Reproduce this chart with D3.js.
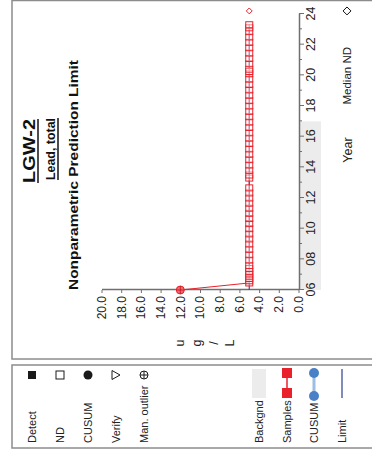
<!DOCTYPE html>
<html><head><meta charset="utf-8">
<script src="https://cdn.jsdelivr.net/npm/d3@7"></script>
<style>
body{margin:0;background:#fff}
svg{display:block;font-family:"Liberation Sans",Arial,Helvetica,sans-serif}
</style>
</head><body>
<svg id="c" width="372" height="454"></svg>
<script>
// ---------------- data ----------------
const outlierDates = [2006.0];
const outlierValues = [12.0];
const sampleDates = [
  2006.46, 2006.6, 2006.75, 2006.9, 2007.05, 2007.2, 2007.4, 2007.6,
  2007.95, 2008.3, 2008.65, 2009.0, 2009.33, 2009.66, 2010.0, 2010.33, 2010.66, 2011.0,
  2011.33, 2011.66, 2012.0, 2012.33, 2012.66, 2013.3, 2013.5, 2013.8, 2014.15, 2014.5,
  2014.85, 2015.2, 2015.55, 2015.9, 2016.25, 2016.6, 2016.95, 2017.3, 2017.65, 2018.0,
  2018.35, 2018.7, 2019.05, 2019.4, 2019.75, 2020.1, 2020.25, 2020.4, 2020.75, 2021.1,
  2021.45, 2021.8, 2022.15, 2022.5, 2022.85, 2023.1, 2023.3
];
const sampleValues = [
  5.0, 5.0, 5.0, 5.0, 5.0, 5.0, 5.0, 5.0,
  5.0, 5.0, 5.0, 5.0, 5.0, 5.0, 5.0, 5.0, 5.0, 5.0,
  5.0, 5.0, 5.0, 5.0, 5.0, 5.0, 5.0, 5.0, 5.0, 5.0,
  5.0, 5.0, 5.0, 5.0, 5.0, 5.0, 5.0, 5.0, 5.0, 5.0,
  5.0, 5.0, 5.0, 5.0, 5.0, 5.0, 5.0, 5.0, 5.0, 5.0,
  5.0, 5.0, 5.0, 5.0, 5.0, 5.0, 5.0
];
const limitValue = 5.0;
const medianNdYears = [2024.2];
const medianNdValues = [5.0];
const backgroundRange = [2006.0, 2017.0];
const yearDomain = [2006, 2024];
const yearMajorTicks = [2006, 2008, 2010, 2012, 2014, 2016, 2018, 2020, 2022, 2024];
const yearMinorTicks = [2007, 2009, 2011, 2013, 2015, 2017, 2019, 2021, 2023];
const yearTickLabels = ["06", "08", "10", "12", "14", "16", "18", "20", "22", "24"];
const valueDomain = [0, 20];
const valueTicks = [0, 2, 4, 6, 8, 10, 12, 14, 16, 18, 20];
const valueTickLabels = ["0.0", "2.0", "4.0", "6.0", "8.0", "10.0", "12.0", "14.0", "16.0", "18.0", "20.0"];
const unitLetters = ["u", "g", "/", "L"];
const titles = ["LGW-2", "Lead, total", "Nonparametric Prediction Limit"];
const legendLeft = ["Detect", "ND", "CUSUM", "Verify", "Man. outlier"];
const legendRight = ["Backgnd", "Samples", "CUSUM", "Limit"];

// ---------------- drawing ----------------
const RED = "#e8212b", AX = "#6f6f6f", FRAME = "#8c8c8c";
const svg = d3.select("#c");
// chart is drawn in its natural (landscape) orientation and rotated 90° counter-clockwise
const g = svg.append("g").attr("transform", "translate(0,454) rotate(-90)");

// panels
g.append("rect").attr("x", 95).attr("y", 12).attr("width", 358.5).attr("height", 380)
  .attr("fill", "none").attr("stroke", FRAME).attr("stroke-width", 1.5);
g.append("rect").attr("x", 6).attr("y", 12).attr("width", 83).attr("height", 380)
  .attr("fill", "none").attr("stroke", FRAME).attr("stroke-width", 1.5);

const xs = d3.scaleLinear().domain(yearDomain).range([164, 440]);
const ys = d3.scaleLinear().domain(valueDomain).range([298.5, 101.5]);
const xAxisY = 299;

// background band
g.append("rect").attr("x", xs(backgroundRange[0])).attr("y", xAxisY + 1)
  .attr("width", xs(backgroundRange[1]) - xs(backgroundRange[0])).attr("height", 21)
  .attr("fill", "#ececec");

// year axis
const xAxis = g.append("g").attr("transform", `translate(0,${xAxisY})`)
  .call(d3.axisBottom(xs).tickValues(yearMajorTicks).tickSize(5).tickSizeOuter(0)
    .tickPadding(2).tickFormat((d, i) => yearTickLabels[i]));
g.append("g").attr("transform", `translate(0,${xAxisY})`)
  .call(d3.axisBottom(xs).tickValues(yearMinorTicks).tickSize(3).tickSizeOuter(0).tickFormat(""))
  .call(a => a.select(".domain").remove());
// value axis
const yAxis = g.append("g").attr("transform", `translate(${xs(yearDomain[0])},0)`)
  .call(d3.axisLeft(ys).tickValues(valueTicks).tickSize(3).tickSizeOuter(0)
    .tickPadding(3).tickFormat((d, i) => valueTickLabels[i]));
g.selectAll(".domain").attr("stroke", AX).attr("stroke-width", 1.5);
g.selectAll(".tick line").attr("stroke", AX);
xAxis.selectAll("text").attr("font-size", 12.5).attr("fill", "#222").attr("font-family", "Liberation Sans");
yAxis.selectAll("text").attr("font-size", 12).attr("fill", "#222").attr("font-family", "Liberation Sans");

// axis titles
g.append("text").attr("y", 352)
  .attr("x", (xs(yearDomain[0]) + xs(yearDomain[1])) / 2 + 2)
  .attr("text-anchor", "middle").attr("font-size", 12.5).attr("fill", "#222").text("Year");
const unitPos = [180, 197, 214, 230];
g.selectAll("text.unit").data(unitLetters).join("text").attr("class", "unit")
  .attr("x", 111).attr("y", (d, i) => unitPos[i]).attr("dominant-baseline", "central")
  .attr("text-anchor", "middle").attr("font-size", 12.5).attr("fill", "#222").text(d => d);

// Median ND key at right of axis
g.append("text").attr("x", 407).attr("y", 351).attr("text-anchor", "end")
  .attr("font-size", 11.5).attr("fill", "#222").text("Median ND");
g.append("path").attr("d", d3.symbol(d3.symbolDiamond2, 40)())
  .attr("transform", `translate(${xs(2024.2)},347)`).attr("fill", "none").attr("stroke", "#111").attr("stroke-width", 1);

// titles
const t1 = g.append("text").attr("x", 303).attr("y", 35).attr("text-anchor", "middle")
  .attr("font-size", 16.5).attr("font-weight", "bold").attr("fill", "#111")
  .attr("textLength", 64).attr("lengthAdjust", "spacingAndGlyphs").text(titles[0]);
const t2 = g.append("text").attr("x", 305).attr("y", 55).attr("text-anchor", "middle")
  .attr("font-size", 12.5).attr("font-weight", "bold").attr("fill", "#111")
  .attr("textLength", 62).attr("lengthAdjust", "spacingAndGlyphs").text(titles[1]);
const t3 = g.append("text").attr("x", 279).attr("y", 78).attr("text-anchor", "middle")
  .attr("font-size", 13).attr("font-weight", "bold").attr("fill", "#111")
  .attr("textLength", 230).attr("lengthAdjust", "spacingAndGlyphs").text(titles[2]);
[[t1, 303, 64], [t2, 305, 62]].forEach(([t, c, w]) => {
  g.append("line").attr("x1", c - w / 2).attr("x2", c + w / 2)
    .attr("y1", +t.attr("y") + 3).attr("y2", +t.attr("y") + 3)
    .attr("stroke", "#111").attr("stroke-width", 1.5);
});

// limit line
g.append("line").attr("x1", xs(outlierDates[0])).attr("x2", xs(sampleDates[sampleDates.length - 1]))
  .attr("y1", ys(limitValue)).attr("y2", ys(limitValue)).attr("stroke", "#3a4fa8").attr("stroke-width", 1.2);

// samples line
const allPts = outlierDates.map((d, i) => [d, outlierValues[i]])
  .concat(sampleDates.map((d, i) => [d, sampleValues[i]]));
g.append("path").datum(allPts)
  .attr("d", d3.line().x(d => xs(d[0])).y(d => ys(d[1])))
  .attr("fill", "none").attr("stroke", RED).attr("stroke-width", 1);

// ND squares
g.selectAll("rect.nd").data(sampleDates).join("rect").attr("class", "nd")
  .attr("x", d => xs(d) - 3).attr("y", (d, i) => ys(sampleValues[i]) - 3.5)
  .attr("width", 6).attr("height", 7)
  .attr("fill", "rgba(255,255,255,0.4)").attr("stroke", RED).attr("stroke-width", 1);

// outlier marker
outlierDates.forEach((d, i) => {
  const cx = xs(d), cy = ys(outlierValues[i]);
  g.append("circle").attr("cx", cx).attr("cy", cy).attr("r", 4)
    .attr("fill", "#f06a70").attr("stroke", RED).attr("stroke-width", 1);
  g.append("path").attr("d", `M${cx - 4},${cy}H${cx + 4}M${cx},${cy - 4}V${cy + 4}`)
    .attr("stroke", "#c0101a").attr("stroke-width", 0.8);
});

// median ND in plot
g.selectAll("path.med").data(medianNdYears).join("path").attr("class", "med")
  .attr("d", d3.symbol(d3.symbolDiamond2, 22)())
  .attr("transform", (d, i) => `translate(${xs(d)},${ys(medianNdValues[i])})`)
  .attr("fill", "#fff").attr("stroke", RED).attr("stroke-width", 1);

// ---------------- legend ----------------
const legV = [32, 60, 88, 116, 144];
const symU = 79;
legendLeft.forEach((name, i) => {
  g.append("text").attr("x", 11).attr("y", legV[i]).attr("dominant-baseline", "central")
    .attr("font-size", 11).attr("fill", "#222").text(name);
});
g.append("rect").attr("x", symU - 4).attr("y", legV[0] - 4).attr("width", 8).attr("height", 8).attr("fill", "#1a1a1a");
g.append("rect").attr("x", symU - 4).attr("y", legV[1] - 4).attr("width", 8).attr("height", 8)
  .attr("fill", "#fff").attr("stroke", "#1a1a1a").attr("stroke-width", 1);
g.append("circle").attr("cx", symU).attr("cy", legV[2]).attr("r", 4.5).attr("fill", "#1a1a1a");
g.append("path").attr("d", `M${symU - 4.5},${legV[3] - 4}L${symU + 4.5},${legV[3] - 4}L${symU},${legV[3] + 4}Z`)
  .attr("fill", "#fff").attr("stroke", "#1a1a1a").attr("stroke-width", 1);
g.append("circle").attr("cx", symU).attr("cy", legV[4]).attr("r", 4).attr("fill", "none").attr("stroke", "#1a1a1a");
g.append("path").attr("d", `M${symU - 4},${legV[4]}H${symU + 4}M${symU},${legV[4] - 4}V${legV[4] + 4}`)
  .attr("stroke", "#1a1a1a").attr("stroke-width", 1);

const legR = [259, 287, 314, 342];
legendRight.forEach((name, i) => {
  g.append("text").attr("x", 11).attr("y", legR[i]).attr("dominant-baseline", "central")
    .attr("font-size", 11).attr("fill", "#222").text(name);
});
g.append("rect").attr("x", 56).attr("y", legR[0] - 7).attr("width", 29).attr("height", 14).attr("fill", "#ececec");
g.append("line").attr("x1", 61).attr("x2", 81).attr("y1", legR[1]).attr("y2", legR[1]).attr("stroke", RED).attr("stroke-width", 1.5);
[61, 81].forEach(u => g.append("rect").attr("x", u - 5).attr("y", legR[1] - 5).attr("width", 10).attr("height", 10).attr("fill", RED));
g.append("line").attr("x1", 58).attr("x2", 81).attr("y1", legR[2]).attr("y2", legR[2]).attr("stroke", "#9dbde3").attr("stroke-width", 3);
[58, 81].forEach(u => g.append("circle").attr("cx", u).attr("cy", legR[2]).attr("r", 5).attr("fill", "#4a80c6"));
g.append("line").attr("x1", 56).attr("x2", 85).attr("y1", legR[3]).attr("y2", legR[3]).attr("stroke", "#2e3f8f").attr("stroke-width", 1.2);
</script>
</body></html>
